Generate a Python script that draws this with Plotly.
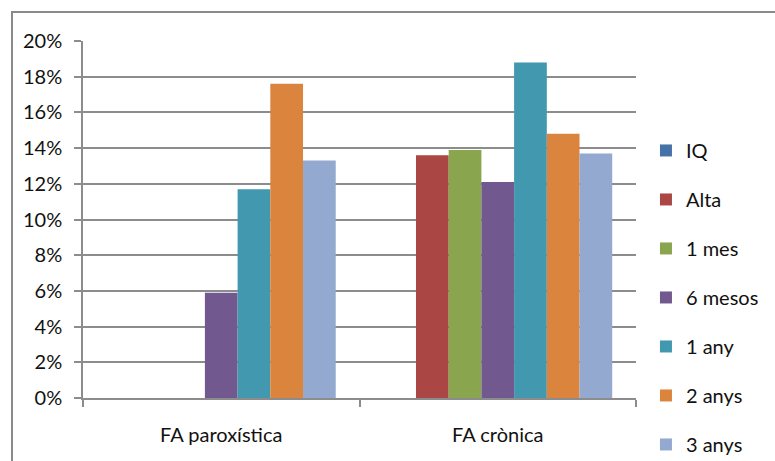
import plotly.graph_objects as go

# Categories and series (share of patients, %)
categories = ["FA paroxística", "FA crònica"]
series_names = ["IQ", "Alta", "1 mes", "6 mesos", "1 any", "2 anys", "3 anys"]
iq = [0.0, 0.0]
alta = [0.0, 13.6]
un_mes = [0.0, 13.9]
sis_mesos = [5.9, 12.1]
un_any = [11.7, 18.8]
dos_anys = [17.6, 14.8]
tres_anys = [13.3, 13.7]
series_values = [iq, alta, un_mes, sis_mesos, un_any, dos_anys, tres_anys]
colors = ["#4572A7", "#AA4643", "#89A54E", "#71588F", "#4198AF", "#DB843D", "#93A9CF"]

FONT = "Lato"
GRID = "#8c8c8c"

fig = go.Figure()
for name, vals, col in zip(series_names, series_values, colors):
    fig.add_trace(go.Bar(
        name=name,
        x=categories,
        y=[v / 100 for v in vals],
        marker=dict(color=col, line=dict(width=0)),
        legendgroup=name,
    ))

fig.update_layout(
    width=775,
    height=461,
    margin=dict(l=83, r=139, t=41, b=63, autoexpand=False),
    paper_bgcolor="white",
    plot_bgcolor="white",
    barmode="group",
    bargap=0.172,
    bargroupgap=0,
    font=dict(family=FONT, size=20, color="#111111"),
    showlegend=True,
    legend=dict(
        x=1.018, y=0.748, xanchor="left", yanchor="top",
        font=dict(family=FONT, size=20, color="#111111"),
        tracegroupgap=20,
        itemwidth=30,
        maxheight=460,
        bgcolor="rgba(0,0,0,0)",
    ),
    xaxis=dict(
        showline=True, linecolor=GRID, linewidth=1.5,
        ticks="outside", tickson="boundaries", ticklen=7, tickcolor=GRID, tickwidth=1.5,
        showgrid=False,
        ticklabelstandoff=18,
        tickfont=dict(family=FONT, size=20),
    ),
    yaxis=dict(
        range=[0, 0.2], dtick=0.02, tickformat=".0%",
        showline=True, linecolor=GRID, linewidth=1.5,
        ticks="outside", ticklen=7, tickcolor=GRID, tickwidth=1.5,
        showgrid=True, gridcolor=GRID, gridwidth=1.5,
        zeroline=False,
        ticklabelstandoff=8,
        tickfont=dict(family=FONT, size=20),
    ),
)

# Chart-area frame (top and left edges visible)
fig.add_shape(
    type="rect", xref="paper", yref="paper",
    x0=(12 - 83) / 553, x1=1.4, y0=-0.4, y1=(398 - 12) / 357,
    line=dict(color="#8a8a8a", width=2), fillcolor="rgba(0,0,0,0)", layer="below",
)

fig.write_html("out.html")
